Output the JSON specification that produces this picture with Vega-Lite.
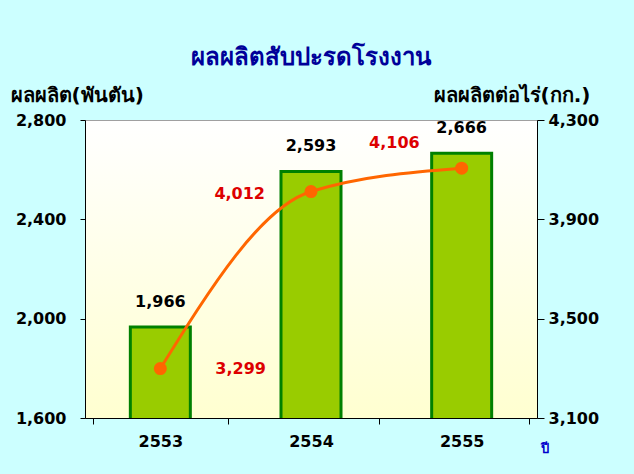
{
  "$schema": "https://vega.github.io/schema/vega-lite/v6.json",
  "width": 452,
  "height": 298,
  "autosize": {"type": "none"},
  "padding": {"left": 85, "top": 120, "right": 97, "bottom": 56},
  "background": "#CCFFFF",
  "title": {
    "text": "ผลผลิตสับปะรดโรงงาน",
    "fontSize": 24,
    "fontWeight": "bold",
    "color": "#000099",
    "font": "DejaVu Sans",
    "anchor": "middle",
    "offset": 15
  },
  "config": {
    "view": {
      "stroke": "#A0A0A0",
      "fill": {"gradient": "linear", "x1": 0, "y1": 0, "x2": 0, "y2": 1, "stops": [{"offset": 0, "color": "#FFFFFF"}, {"offset": 1, "color": "#FFFFD0"}]}
    },
    "font": "DejaVu Sans",
    "axis": {
      "labelFont": "DejaVu Sans",
      "labelFontWeight": "bold",
      "labelFontSize": 16,
      "labelColor": "#000000",
      "domainColor": "#000000",
      "tickColor": "#000000",
      "grid": false,
      "titleFont": "DejaVu Sans",
      "titleFontWeight": "bold",
      "titleFontSize": 20,
      "titleColor": "#000000"
    }
  },
  "data": {
    "values": [
      {"year": "2553", "output": 1966, "yield": 3299},
      {"year": "2554", "output": 2593, "yield": 4012},
      {"year": "2555", "output": 2666, "yield": 4106}
    ]
  },
  "encoding": {
    "x": {
      "field": "year",
      "type": "nominal",
      "axis": {
        "labelAngle": 0,
        "labelPadding": 9,
        "tickBand": "extent",
        "tickSize": 6,
        "title": "ปี",
        "titleColor": "#0000CC",
        "titleFontSize": 13,
        "titleAngle": 0,
        "titleX": 455,
        "titleY": 24,
        "titleAlign": "left"
      }
    }
  },
  "layer": [
    {
      "layer": [
        {
          "mark": {"type": "bar", "size": 60, "color": "#99CC00", "stroke": "#008000", "strokeWidth": 3, "clip": true},
          "encoding": {
            "y": {
              "field": "output",
              "type": "quantitative",
              "scale": {"domain": [1600, 2800], "nice": false, "zero": false},
              "axis": {
                "values": [1600, 2000, 2400, 2800],
                "format": ",d",
                "tickSize": 5,
                "labelPadding": 14,
                "title": "ผลผลิต(พันตัน)",
                "titleAngle": 0,
                "titleX": -75,
                "titleY": -25,
                "titleAlign": "left",
                "titleBaseline": "middle"
              }
            }
          }
        },
        {
          "mark": {"type": "text", "dy": -25, "fontSize": 16, "fontWeight": "bold", "color": "#000000"},
          "encoding": {
            "y": {"field": "output", "type": "quantitative"},
            "text": {"field": "output", "type": "quantitative", "format": ",d"}
          }
        }
      ]
    },
    {
      "layer": [
        {
          "mark": {"type": "line", "color": "#FF6600", "strokeWidth": 3, "interpolate": "monotone"},
          "encoding": {
            "y": {
              "field": "yield",
              "type": "quantitative",
              "scale": {"domain": [3100, 4300], "nice": false, "zero": false},
              "axis": {
                "orient": "right",
                "values": [3100, 3500, 3900, 4300],
                "format": ",d",
                "tickSize": 7,
                "labelPadding": 4,
                "title": "ผลผลิตต่อไร่(กก.)",
                "titleAngle": 0,
                "titleX": 53,
                "titleY": -25,
                "titleAlign": "right",
                "titleBaseline": "middle"
              }
            }
          }
        },
        {
          "mark": {"type": "circle", "color": "#FF6600", "size": 170, "opacity": 1},
          "encoding": {"y": {"field": "yield", "type": "quantitative"}}
        },
        {
          "transform": [{"filter": "datum.year == '2553'"}],
          "mark": {"type": "text", "align": "left", "dx": 55, "dy": 0, "fontSize": 16, "fontWeight": "bold", "color": "#DD0000"},
          "encoding": {
            "y": {"field": "yield", "type": "quantitative"},
            "text": {"field": "yield", "type": "quantitative", "format": ",d"}
          }
        },
        {
          "transform": [{"filter": "datum.year == '2554'"}],
          "mark": {"type": "text", "align": "right", "dx": -46, "dy": 2, "fontSize": 16, "fontWeight": "bold", "color": "#DD0000"},
          "encoding": {
            "y": {"field": "yield", "type": "quantitative"},
            "text": {"field": "yield", "type": "quantitative", "format": ",d"}
          }
        },
        {
          "transform": [{"filter": "datum.year == '2555'"}],
          "mark": {"type": "text", "align": "right", "dx": -42, "dy": -25, "fontSize": 16, "fontWeight": "bold", "color": "#DD0000"},
          "encoding": {
            "y": {"field": "yield", "type": "quantitative"},
            "text": {"field": "yield", "type": "quantitative", "format": ",d"}
          }
        }
      ]
    }
  ],
  "resolve": {"scale": {"y": "independent"}}
}
